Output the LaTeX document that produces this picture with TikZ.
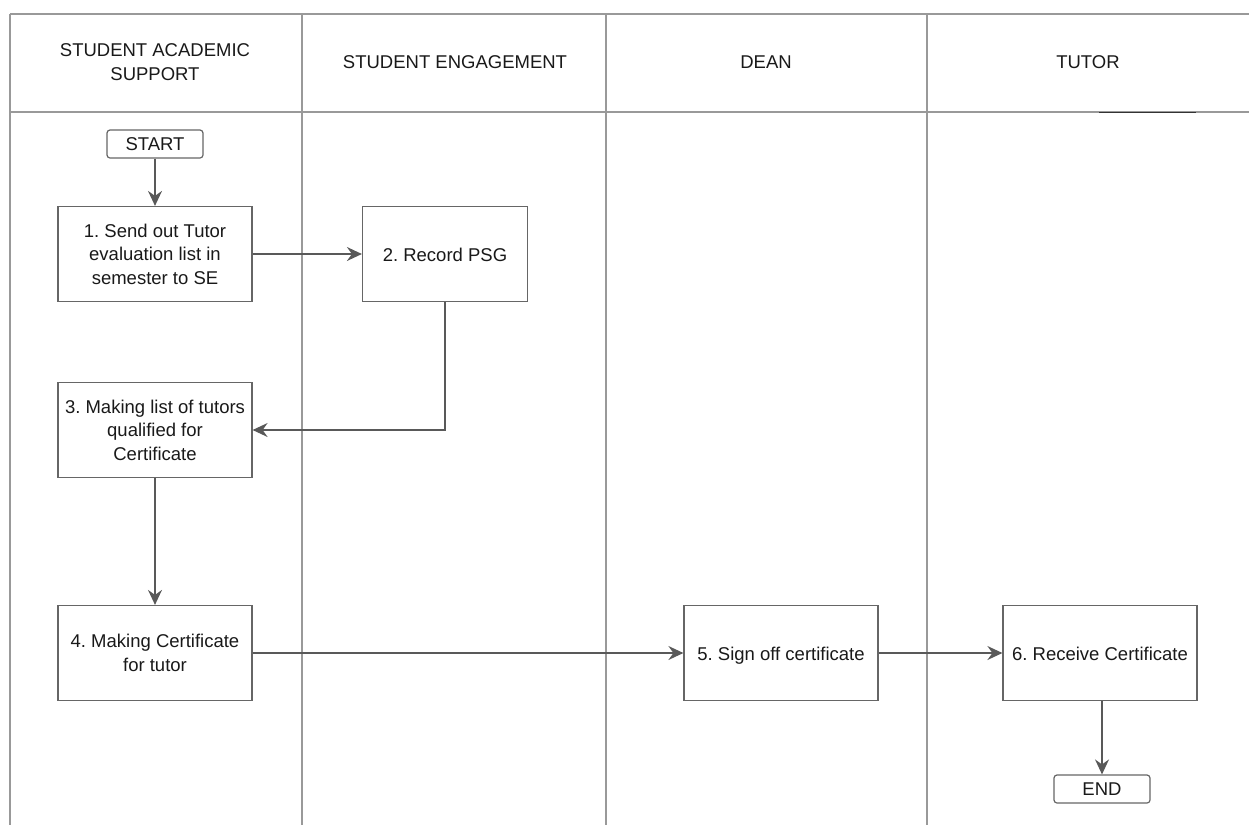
\documentclass[tikz,border=0pt]{standalone}
\usepackage{fontspec}
\setmainfont{Liberation Sans}
\usetikzlibrary{arrows.meta}
\begin{document}
\begin{tikzpicture}[x=1pt,y=-1pt]
\tikzstyle{every node}+=[font=\fontsize{18.5}{23.5}\selectfont\frenchspacing, text=black!90]
\tikzstyle{lane}=[draw=black!40, line width=1.3pt]
\tikzstyle{task}=[draw=black!60, line width=1.2pt, minimum width=194pt, minimum height=95pt, align=center, inner sep=1pt]
\tikzstyle{oneline}=[text height=16pt, text depth=1pt]
\tikzstyle{term}=[draw=black!60, line width=1.2pt, rounded corners=3pt, minimum width=96pt, minimum height=28pt, inner sep=1pt]
\tikzstyle{flow}=[draw=black!65, line width=1.3pt, -{Stealth[length=15pt,width=14pt,inset=5pt]}]

\useasboundingbox (0,0) rectangle (1249,825);

% swimlanes
\draw [lane] (10,14) -- (1249,14);
\draw [lane] (10,112) -- (1249,112);
\foreach \x in {10,302,606,927} \draw [lane] (\x,14) -- (\x,825);
\draw [black!80, line width=0.6pt] (1099,112) -- (1196,112);

\node [align=center] (hsas) at (155,62) {STUDENT ACADEMIC\\SUPPORT};
\node (hse) at (455,62) {STUDENT ENGAGEMENT};
\node (hdean) at (766,62) {DEAN};
\node (htutor) at (1088,62) {TUTOR};

% steps
\node [term] (start) at (155,144) {START};
\node [task] (t1) at (155,254) {1. Send out Tutor\\evaluation list in\\semester to SE};
\node [task, oneline, minimum width=165pt] (t2) at (445,254) {2. Record PSG};
\node [task] (t3) at (155,430) {3. Making list of tutors\\qualified for\\Certificate};
\node [task] (t4) at (155,653) {4. Making Certificate\\for tutor};
\node [task, oneline] (t5) at (781,653) {5. Sign off certificate};
\node [task, oneline] (t6) at (1100,653) {6. Receive Certificate};
\node [term] (end) at (1102,789) {END};

\draw [flow] (start) -- (t1);
\draw [flow] (t1) -- (t2);
\draw [flow] (t2.south) |- (t3.east);
\draw [flow] (t3) -- (t4);
\draw [flow] (t4) -- (t5);
\draw [flow] (t5) -- (t6);
\draw [flow] (t6.south -| end) -- (end);
\end{tikzpicture}
\end{document}
